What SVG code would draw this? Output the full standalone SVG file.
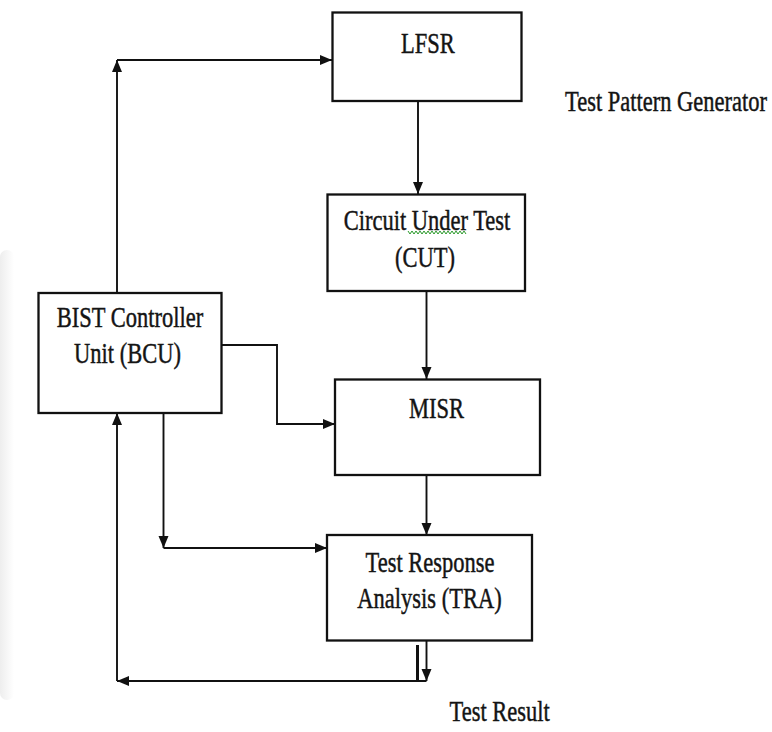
<svg xmlns="http://www.w3.org/2000/svg" width="772" height="732" viewBox="0 0 772 732">
<style>
.box{fill:#fff;stroke:#111;stroke-width:2.3}
.t{font-family:"Liberation Serif","Times New Roman",serif;font-size:22.5px;fill:#141414;stroke:#141414;stroke-width:0.35}
.c{fill:none;stroke:#111;stroke-width:1.9}
</style>
<defs>
<marker id="ah" markerUnits="userSpaceOnUse" markerWidth="14" markerHeight="11" refX="12" refY="5" orient="auto">
<path d="M0,0 L12,5 L0,10 z" fill="#111"/>
</marker>
<linearGradient id="edge" x1="0" y1="0" x2="1" y2="0">
<stop offset="0" stop-color="#d8d8d8"/>
<stop offset="1" stop-color="#ffffff"/>
</linearGradient>
</defs>
<rect width="772" height="732" fill="#fff"/>
<rect x="0" y="250" width="14" height="450" rx="7" fill="url(#edge)" opacity="0.45"/>
<g id="connectors">
<line class="c" x1="117" y1="293" x2="117" y2="60" marker-end="url(#ah)"/>
<line class="c" x1="117" y1="60" x2="332" y2="60" marker-end="url(#ah)"/>
<line class="c" x1="418" y1="101" x2="418" y2="194" marker-end="url(#ah)"/>
<line class="c" x1="426.5" y1="291" x2="426.5" y2="379" marker-end="url(#ah)"/>
<line class="c" x1="426.5" y1="475" x2="426.5" y2="535" marker-end="url(#ah)"/>
<polyline class="c" points="221,345 277,345 277,424 335,424" marker-end="url(#ah)"/>
<line class="c" x1="163.5" y1="413" x2="163.5" y2="548" marker-end="url(#ah)"/>
<line class="c" x1="163.5" y1="548" x2="327" y2="548" marker-end="url(#ah)"/>
<line class="c" x1="426.5" y1="640" x2="426.5" y2="681" marker-end="url(#ah)"/>
<line x1="417.5" y1="645" x2="417.5" y2="681" stroke="#111" stroke-width="3"/>
<line class="c" x1="426.5" y1="681" x2="117" y2="681" marker-end="url(#ah)"/>
<line class="c" x1="117" y1="681" x2="117" y2="413" marker-end="url(#ah)"/>
</g>
<g id="lfsr">
<rect class="box" x="332.5" y="12.5" width="189" height="88.5"/>
<text class="t" text-anchor="middle" transform="translate(428,53) scale(1,1.35)">LFSR</text>
</g>
<g id="cut">
<rect class="box" x="327.5" y="194.5" width="197.5" height="96.5"/>
<text class="t" text-anchor="middle" transform="translate(427,230) scale(1,1.35)">Circuit Under Test</text>
<text class="t" text-anchor="middle" transform="translate(425,267) scale(1,1.35)">(CUT)</text>
<polyline points="408,231 410,234 412,231 414,234 416,231 418,234 420,231 422,234 424,231 426,234 428,231 430,234 432,231 434,234 436,231 438,234 440,231 442,234 444,231 446,234 448,231 450,234 452,231 454,234 456,231 458,234 460,231 462,234 464,231 466,234" fill="none" stroke="#2a9a2a" stroke-width="1"/>
</g>
<g id="bcu">
<rect class="box" x="38.5" y="293" width="183" height="120"/>
<text class="t" text-anchor="middle" transform="translate(130,326.5) scale(1,1.35)">BIST Controller</text>
<text class="t" text-anchor="middle" transform="translate(127.5,363) scale(1,1.35)">Unit (BCU)</text>
</g>
<g id="misr">
<rect class="box" x="335" y="379.5" width="205" height="95.5"/>
<text class="t" text-anchor="middle" transform="translate(436.5,418) scale(1,1.35)">MISR</text>
</g>
<g id="tra">
<rect class="box" x="327" y="535" width="205" height="105.5"/>
<text class="t" text-anchor="middle" transform="translate(430,571.5) scale(1,1.35)">Test Response</text>
<text class="t" text-anchor="middle" transform="translate(429.5,608) scale(1,1.35)">Analysis (TRA)</text>
</g>
<g id="labels">
<text class="t" transform="translate(565,110.5) scale(1,1.35)">Test Pattern Generator</text>
<text class="t" transform="translate(449.5,720.5) scale(1,1.35)">Test Result</text>
</g>
</svg>
